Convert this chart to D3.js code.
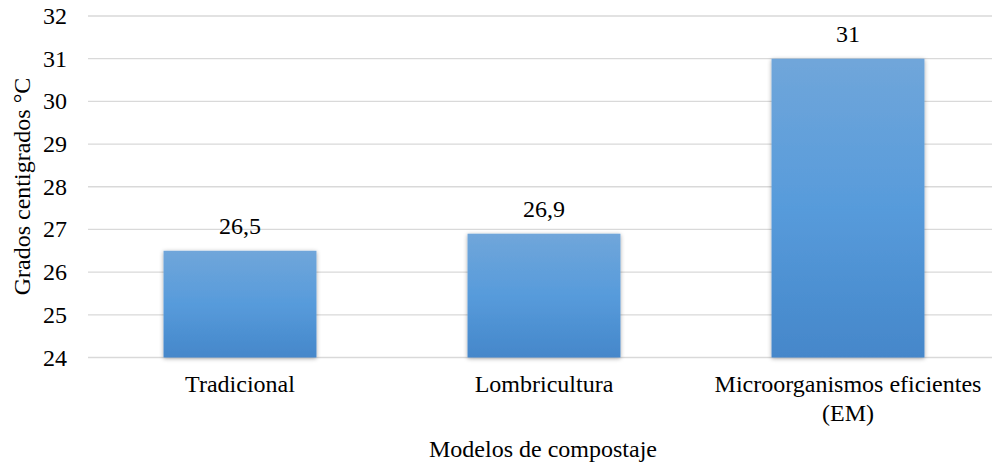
<!DOCTYPE html>
<html>
<head>
<meta charset="utf-8">
<script src="https://cdn.jsdelivr.net/npm/d3@7"></script>
</head>
<body style="margin:0">
<svg id="chart" width="992" height="466" style="font-family: 'Times New Roman', Tinos, 'Liberation Serif', serif;"></svg>
<script>
const categories = [["Tradicional"], ["Lombricultura"], ["Microorganismos eficientes", "(EM)"]];
const values = [26.5, 26.9, 31];
const valueLabels = ["26,5", "26,9", "31"];
const yTicks = [24, 25, 26, 27, 28, 29, 30, 31, 32];
const yTitle = "Grados centigrados °C";
const xTitle = "Modelos de compostaje";

const svg = d3.select("#chart");
const fontSize = 24;
const serifStack = "'Times New Roman', Tinos, 'Liberation Serif', serif";

const x = d3.scaleBand()
  .domain(d3.range(categories.length))
  .range([88, 1000])
  .paddingInner(0.497)
  .paddingOuter(0.2485);

const y = d3.scaleLinear().domain([24, 32]).range([357.5, 16]);

const defs = svg.append("defs");
const grad = defs.append("linearGradient")
  .attr("id", "barGrad").attr("x1", 0).attr("y1", 0).attr("x2", 0).attr("y2", 1);
grad.append("stop").attr("offset", "0%").attr("stop-color", "#70a6da");
grad.append("stop").attr("offset", "50%").attr("stop-color", "#579bdb");
grad.append("stop").attr("offset", "100%").attr("stop-color", "#4587ca");

const filt = defs.append("filter").attr("id", "shadow")
  .attr("x", "-10%").attr("y", "-10%").attr("width", "120%").attr("height", "120%");
filt.append("feDropShadow").attr("dx", 0).attr("dy", 1).attr("stdDeviation", 2.2)
  .attr("flood-color", "#000").attr("flood-opacity", 0.35);

function styleText(sel) {
  return sel.attr("font-size", fontSize).attr("font-family", serifStack).style("font-family", serifStack).attr("fill", "#000");
}

// gridlines
svg.append("g").selectAll("line").data(yTicks).join("line")
  .attr("x1", 88).attr("x2", 992)
  .attr("y1", d => y(d)).attr("y2", d => y(d))
  .attr("stroke", "#d9d9d9").attr("stroke-width", 1.3);

// y axis labels (drawn from the scale)
yTicks.forEach(t => {
  styleText(svg.append("text")
    .attr("x", 67).attr("y", y(t) + 8)
    .attr("text-anchor", "end")
    .text(t));
});

// bars
svg.append("g").selectAll("rect").data(values).join("rect")
  .attr("x", (d, i) => x(i))
  .attr("width", x.bandwidth())
  .attr("y", d => y(d))
  .attr("height", d => y(24) - y(d))
  .attr("fill", "url(#barGrad)")
  .attr("filter", "url(#shadow)");

// value labels
values.forEach((v, i) => {
  styleText(svg.append("text")
    .attr("x", x(i) + x.bandwidth() / 2)
    .attr("y", y(v) - 16.5)
    .attr("text-anchor", "middle")
    .text(valueLabels[i]));
});

// category labels
categories.forEach((lines, i) => {
  lines.forEach((ln, j) => {
    styleText(svg.append("text")
      .attr("x", x(i) + x.bandwidth() / 2)
      .attr("y", 392 + j * 28.5)
      .attr("text-anchor", "middle")
      .text(ln));
  });
});

// axis titles
styleText(svg.append("text")
  .attr("x", 543).attr("y", 457)
  .attr("text-anchor", "middle")
  .text(xTitle));

styleText(svg.append("text")
  .attr("transform", "translate(30,186.5) rotate(-90)")
  .attr("text-anchor", "middle")
  .text(yTitle));
</script>
</body>
</html>
